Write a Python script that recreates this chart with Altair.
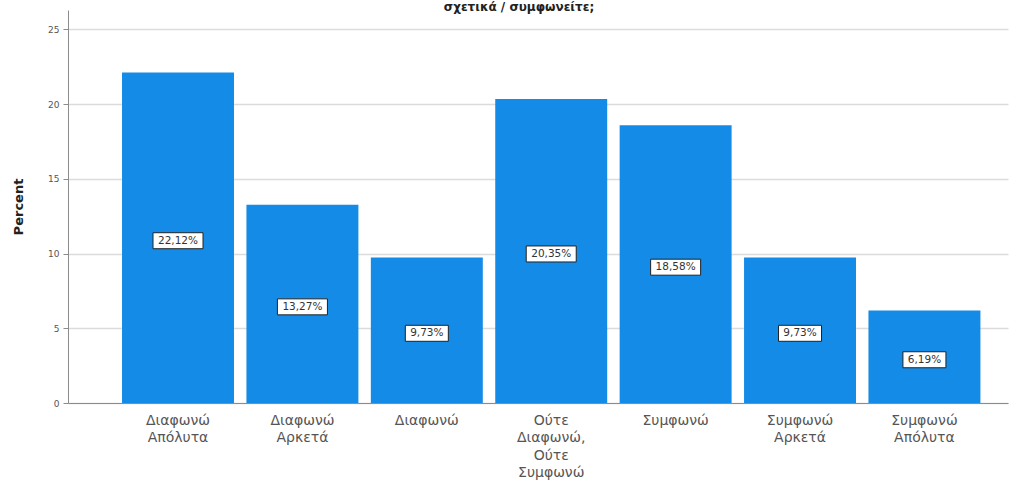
import altair as alt
import pandas as pd

# Response categories ("|" marks a line break in the axis label)
categories = [
    "Διαφωνώ|Απόλυτα",
    "Διαφωνώ|Αρκετά",
    "Διαφωνώ",
    "Ούτε|Διαφωνώ,|Ούτε|Συμφωνώ",
    "Συμφωνώ",
    "Συμφωνώ|Αρκετά",
    "Συμφωνώ|Απόλυτα",
]
percents = [22.12, 13.27, 9.73, 20.35, 18.58, 9.73, 6.19]
y_ticks = [0, 5, 10, 15, 20, 25]
y_title = "Percent"
chart_title = "σχετικά / συμφωνείτε;"

df = pd.DataFrame({"category": categories, "percent": percents})
df["label"] = [f"{v:.2f}%".replace(".", ",") for v in percents]

BLUE = "#148be6"
AXIS_GRAY = "#8c8c8c"
FONT = "DejaVu Sans"

x_scale = alt.Scale(paddingInner=0.1, paddingOuter=0.328, align=0.662)
y_scale = alt.Scale(domain=[0, 26.3], nice=False)

x_axis = alt.Axis(
    labelExpr="split(datum.label, '|')",
    labelAngle=0,
    ticks=False,
    domainColor=AXIS_GRAY,
    labelFont=FONT,
    labelFontSize=14,
    labelColor="#555555",
    labelPadding=10,
    labelLineHeight=17.5,
)

y_axis = alt.Axis(
    values=y_ticks,
    title=y_title,
    grid=True,
    gridColor="#dcdcdc",
    gridWidth=1.5,
    domainColor=AXIS_GRAY,
    tickColor=AXIS_GRAY,
    tickSize=5,
    labelFont=FONT,
    labelFontSize=9,
    labelColor="#555555",
    labelPadding=4,
    titleFont=FONT,
    titleFontWeight="bold",
    titleFontSize=13,
    titleColor="#222222",
    titleX=-43,
    titleY=196.5,
    titleAngle=270,
    titleBaseline="bottom",
)

x_enc = alt.X("category:N", sort=categories, title=None, scale=x_scale, axis=x_axis)

base = alt.Chart(df)

bars = base.mark_bar(color=BLUE).encode(
    x=x_enc,
    y=alt.Y("percent:Q", scale=y_scale, axis=y_axis),
)

# Value labels sit in a white bordered box at half the bar height
label_base = base.transform_calculate(
    w="length(datum.label) * 7 + 8",
    mid="datum.percent / 2",
).transform_calculate(
    shp="'M-1,' + (-16 / datum.w) + 'H1V' + (16 / datum.w) + 'H-1Z'",
    sz="datum.w * datum.w",
)

boxes = label_base.mark_point(
    filled=True, fill="white", stroke="#222222", strokeWidth=1,
    opacity=1, fillOpacity=1, yOffset=3,
).encode(
    x=x_enc,
    y=alt.Y("mid:Q", scale=y_scale, axis=y_axis),
    shape=alt.Shape("shp:N", scale=None),
    size=alt.Size("sz:Q", scale=None),
)

texts = label_base.mark_text(
    font=FONT, fontSize=10.5, color="#333333", baseline="middle", yOffset=3,
).encode(
    x=x_enc,
    y=alt.Y("mid:Q", scale=y_scale, axis=y_axis),
    text="label:N",
)

title = alt.Chart(pd.DataFrame({"t": [chart_title]})).mark_text(
    font=FONT, fontSize=12, fontWeight="bold", color="#222222",
    align="center", baseline="alphabetic",
).encode(
    x=alt.value(451),
    y=alt.value(1),
    text="t:N",
)

chart = (
    alt.layer(bars, boxes, texts, title)
    .properties(
        width=940,
        height=393,
        padding={"left": 68, "top": 10, "right": 16, "bottom": 89},
        autosize=alt.AutoSizeParams(type="none"),
        background="white",
    )
    .configure_view(stroke=None)
)

chart.save("out.html", embed_options={"renderer": "svg", "actions": False})
